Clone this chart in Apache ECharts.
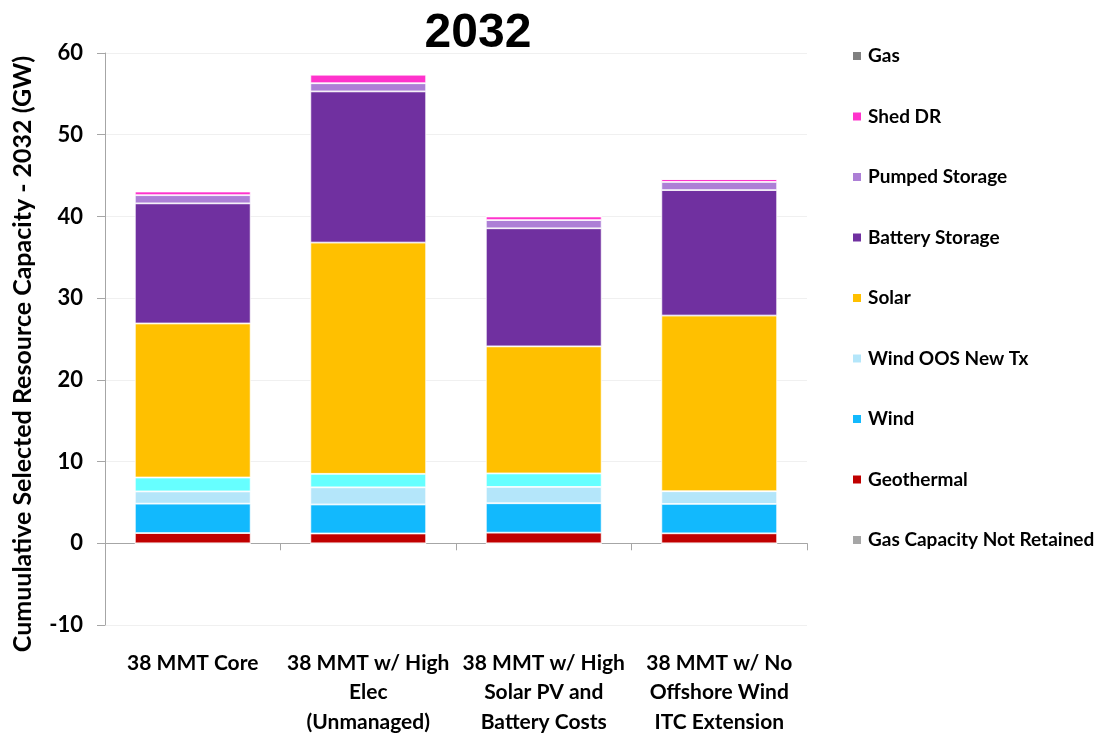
<!DOCTYPE html>
<html>
<head>
<meta charset="utf-8">
<script src="https://cdn.jsdelivr.net/npm/echarts@6/dist/echarts.min.js"></script>
<style>html,body{margin:0;padding:0;background:#fff}#c{width:1099px;height:733px}</style>
</head>
<body>
<div id="c"></div>
<script>
const categories = ['38 MMT Core', '38 MMT w/ High\nElec\n(Unmanaged)', '38 MMT w/ High\nSolar PV and\nBattery Costs', '38 MMT w/ No\nOffshore Wind\nITC Extension'];
const gasNotRetained = [0, 0, 0, 0];
const geothermal = [1.25, 1.2, 1.3, 1.22];
const wind = [3.6, 3.55, 3.6, 3.6];
const windOOS = [1.5, 2.1, 2.0, 1.55];
const offshoreWind = [1.7, 1.65, 1.65, 0];
const solar = [18.85, 28.3, 15.55, 21.5];
const battery = [14.7, 18.5, 14.45, 15.35];
const pumped = [1.0, 1.0, 1.0, 1.0];
const shedDR = [0.45, 1.05, 0.45, 0.35];
const gas = [0, 0, 0, 0];
const yTicks = [-10, 0, 10, 20, 30, 40, 50, 60];

const font = 'Lato, "Open Sans", sans-serif';
const seriesDefs = [
  ['Gas Capacity Not Retained', gasNotRetained, '#A6A6A6'],
  ['Geothermal', geothermal, '#C00000'],
  ['Wind', wind, '#12B9FD'],
  ['Wind OOS New Tx', windOOS, '#B4E6FA'],
  ['Offshore Wind', offshoreWind, '#66FFFF'],
  ['Solar', solar, '#FFC000'],
  ['Battery Storage', battery, '#7030A0'],
  ['Pumped Storage', pumped, '#AD7FD6'],
  ['Shed DR', shedDR, '#FF33CC'],
  ['Gas', gas, '#808080']
];
const legendOrder = ['Gas', 'Shed DR', 'Pumped Storage', 'Battery Storage', 'Solar', 'Wind OOS New Tx', 'Wind', 'Geothermal', 'Gas Capacity Not Retained'];

const chart = echarts.init(document.getElementById('c'));
chart.setOption({
  animation: false,
  backgroundColor: '#fff',
  title: {
    text: '2032', left: 473, top: 5, textAlign: 'center',
    textStyle: {fontFamily: '"Liberation Sans", Arial, sans-serif', fontWeight: 'bold', fontSize: 48, color: '#000'}
  },
  legend: {
    orient: 'vertical', left: 851, top: 46, padding: 0,
    data: legendOrder, itemWidth: 10, itemHeight: 10, itemGap: 40.5,
    icon: 'rect',
    textStyle: {fontFamily: font, fontWeight: 'bold', fontSize: 19, color: '#000', lineHeight: 20, padding: [0,0,0,1]}
  },
  grid: {left: 105, right: 292, top: 53, bottom: 108, outerBoundsMode: 'none', containLabel: false},
  xAxis: [{
    type: 'category', data: categories,
    axisLine: {onZero: true, lineStyle: {color: '#A6A6A6', width: 1}},
    axisTick: {show: true, length: 7, lineStyle: {color: '#A6A6A6'}},
    axisLabel: {show: false}
  }, {
    type: 'category', data: categories, position: 'bottom',
    axisLine: {show: false, onZero: false},
    axisTick: {show: false},
    axisLabel: {margin: 23, fontFamily: font, fontWeight: 'bold', fontSize: 21, color: '#000', lineHeight: 29.5, interval: 0}
  }],
  yAxis: {
    type: 'value', min: yTicks[0], max: yTicks[yTicks.length-1], interval: 10,
    name: 'Cumuulative Selected Resource Capacity - 2032 (GW)', nameLocation: 'middle', nameGap: 70,
    nameTextStyle: {fontFamily: font, fontWeight: 'bold', fontSize: 25, color: '#000', padding: [0, 30, 0, 0]},
    axisLine: {show: true, lineStyle: {color: '#A6A6A6'}},
    axisTick: {show: true, length: 8, lineStyle: {color: '#A6A6A6'}},
    axisLabel: {margin: 22, fontFamily: font, fontWeight: 'bold', fontSize: 22, color: '#000'},
    splitLine: {lineStyle: {color: '#F0F0F0'}}
  },
  series: seriesDefs.map(([name, data, color]) => ({
    name, type: 'bar', stack: 'total', data, barWidth: '66%', xAxisIndex: 0,
    itemStyle: {color, borderColor: '#fff', borderWidth: 0.8},
    emphasis: {disabled: true}
  }))
});
</script>
</body>
</html>
